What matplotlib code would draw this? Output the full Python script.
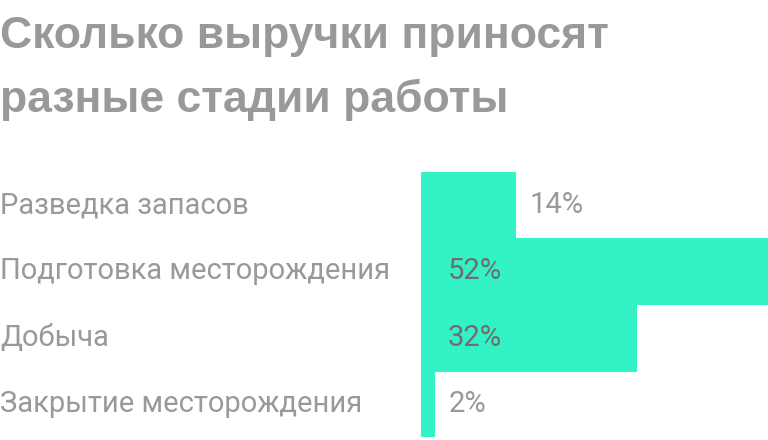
import matplotlib.pyplot as plt
from matplotlib.transforms import blended_transform_factory

stages = ["Разведка запасов", "Подготовка месторождения", "Добыча", "Закрытие месторождения"]
shares = [14, 52, 32, 2]

bar_color = "#33f2c6"
gray = "#999999"
dark = "#6e6e6e"

fig = plt.figure(figsize=(7.68, 4.4), dpi=100)
ax = fig.add_axes([421 / 768, 3 / 440, 347 / 768, 265 / 440])

y = list(range(len(stages)))
ax.barh(y, shares, height=1.0, color=bar_color, edgecolor=bar_color, linewidth=0.8, left=0)
ax.set_xlim(0, 347 / 6.72)
ax.set_ylim(len(stages) - 0.5, -0.5)
ax.axis("off")

# подписи слева от столбцов, от левого края картинки
tr = blended_transform_factory(fig.transFigure, ax.transData)
for i, name in enumerate(stages):
    ax.text(0.0, i, name, transform=tr, ha="left", va="center",
            fontsize=21, color=gray, family="Roboto")

# значения: внутри столбца если он широкий, иначе справа
for i, v in enumerate(shares):
    if v >= 20:
        ax.annotate(f"{v}%", (0, i), xytext=(27, 0), textcoords="offset pixels",
                    ha="left", va="center", fontsize=21, color=dark, family="Roboto")
    else:
        ax.annotate(f"{v}%", (v, i), xytext=(14, 0), textcoords="offset pixels",
                    ha="left", va="center", fontsize=21, color=gray, family="Roboto")

fig.text(0.0, 1 - 48 / 440, "Сколько выручки приносят", ha="left", va="baseline",
         fontsize=32, fontweight="bold", color=gray, family="Liberation Sans")
fig.text(0.0, 1 - 112 / 440, "разные стадии работы", ha="left", va="baseline",
         fontsize=32, fontweight="bold", color=gray, family="Liberation Sans")

fig.savefig("out.png", dpi=100)
